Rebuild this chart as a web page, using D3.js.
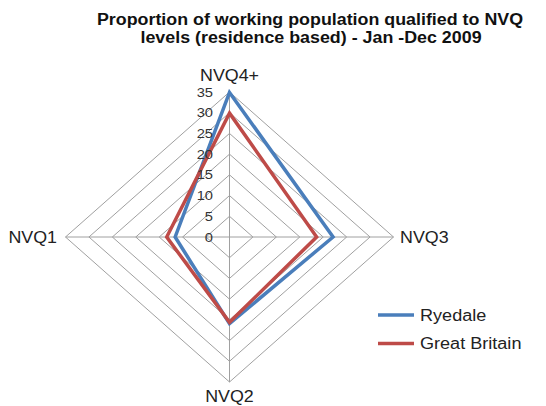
<!DOCTYPE html>
<html>
<head>
<meta charset="utf-8">
<script src="https://cdn.jsdelivr.net/npm/d3@7"></script>
<style>
	body { margin: 0; background: #fff; }
	text { font-family: "Liberation Sans", Arial, sans-serif; }
</style>
</head>
<body>
<svg id="chart" width="546" height="406"></svg>
<script>
var categories = ["NVQ4+", "NVQ3", "NVQ2", "NVQ1"];
var ryedale = [34.9, 22.1, 20.9, 11.6];
var greatBritain = [29.9, 18.6, 20.6, 13.4];
var ticks = [0, 5, 10, 15, 20, 25, 30, 35];
var seriesNames = ["Ryedale", "Great Britain"];
var seriesColors = ["#4A7EBB", "#BE4B48"];

var svg = d3.select("#chart");

var cx = 229.5, cy = 237;
// the original picture is stretched sideways, text too
var stretch = 1.13;

var xScale = d3.scaleLinear().domain([0, 35]).range([0, 164]);
var yScale = d3.scaleLinear().domain([0, 35]).range([0, 145]);

// axis directions: up, right, down, left
var dirs = [[0, -1], [1, 0], [0, 1], [-1, 0]];

function point(v, i) {
	return [cx + dirs[i][0] * xScale(v), cy + dirs[i][1] * yScale(v)];
}

function place(x, y) {
	return "translate(" + x + "," + y + ") scale(" + stretch + ",1)";
}

// title
var titleLines = [
	{ text: "Proportion of working population qualified to NVQ", x: 310, y: 25 },
	{ text: "levels (residence based) - Jan -Dec 2009", x: 311, y: 43 }
];

svg.selectAll(".title")
	.data(titleLines)
.enter().append("text")
	.attr("class", "title")
	.attr("transform", (d) => place(d.x, d.y))
	.attr("text-anchor", "middle")
	.style("font-size", "15.8px")
	.style("font-weight", "bold")
	.style("fill", "#111")
	.text((d) => d.text);

var grid = svg.append("g");

// rings
grid.selectAll(".ring")
	.data(ticks.filter((d) => d > 0))
.enter().append("polygon")
	.attr("class", "ring")
	.attr("points", (d) => {
		return categories.map((c, i) => point(d, i).join(",")).join(" ");
	})
	.style("fill", "none")
	.style("stroke", "#a0a0a0")
	.style("stroke-width", 1);

// spokes
grid.selectAll(".spoke")
	.data(categories)
.enter().append("line")
	.attr("class", "spoke")
	.attr("x1", cx)
	.attr("y1", cy)
	.attr("x2", (d, i) => point(35, i)[0])
	.attr("y2", (d, i) => point(35, i)[1])
	.style("stroke", "#a0a0a0")
	.style("stroke-width", 1);

// series
var allSeries = [ryedale, greatBritain];
var line = d3.line().curve(d3.curveLinearClosed);

svg.selectAll(".series")
	.data(allSeries)
.enter().append("path")
	.attr("class", "series")
	.attr("d", (d) => line(d.map((v, i) => point(v, i))))
	.style("fill", "none")
	.style("stroke", (d, i) => seriesColors[i])
	.style("stroke-width", 3.5)
	.style("stroke-linejoin", "miter");

// tick labels on the top spoke
svg.selectAll(".tick")
	.data(ticks)
.enter().append("text")
	.attr("class", "tick")
	.attr("transform", (d) => place(213, cy - yScale(d)))
	.attr("dy", "0.35em")
	.attr("text-anchor", "end")
	.style("font-size", "13px")
	.style("fill", "#333")
	.text((d) => d);

// category labels
var labelPos = [
	{ x: cx, y: 81, anchor: "middle" },
	{ x: 400, y: cy + 6, anchor: "start" },
	{ x: cx, y: 402, anchor: "middle" },
	{ x: 57, y: cy + 6, anchor: "end" }
];

svg.selectAll(".cat")
	.data(categories)
.enter().append("text")
	.attr("class", "cat")
	.attr("transform", (d, i) => place(labelPos[i].x, labelPos[i].y))
	.attr("text-anchor", (d, i) => labelPos[i].anchor)
	.style("font-size", "15.8px")
	.style("fill", "#222")
	.text((d) => d);

// legend
var legend = svg.selectAll(".legend")
	.data(seriesNames)
.enter().append("g")
	.attr("class", "legend")
	.attr("transform", (d, i) => "translate(378," + (315 + i * 28.5) + ")");

legend.append("line")
	.attr("x1", 0)
	.attr("x2", 36)
	.style("stroke", (d, i) => seriesColors[i])
	.style("stroke-width", 3.5);

legend.append("text")
	.attr("transform", place(42, 0))
	.attr("dy", "0.35em")
	.style("font-size", "16px")
	.style("fill", "#222")
	.text((d) => d);
</script>
</body>
</html>
